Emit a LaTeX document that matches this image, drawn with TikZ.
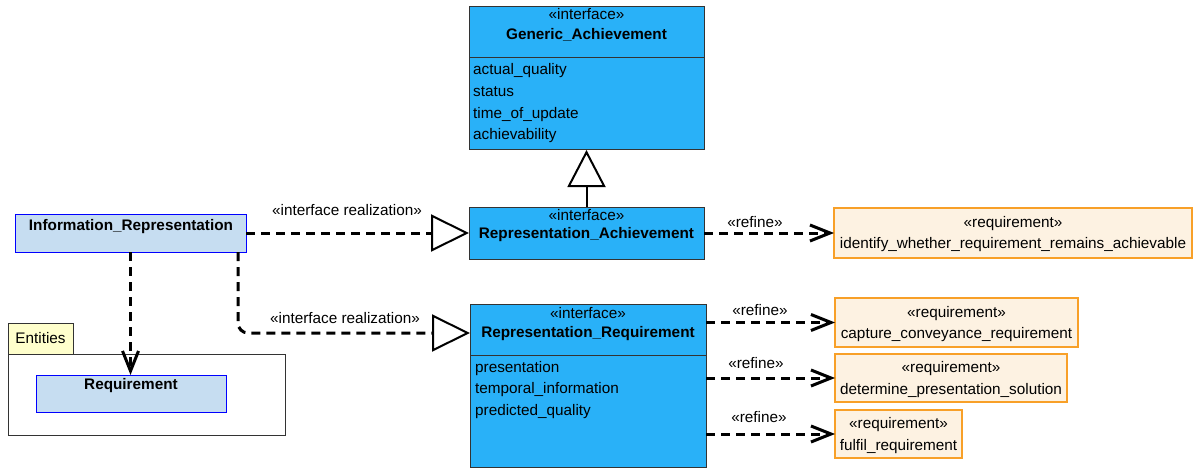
\documentclass[tikz,border=0pt]{standalone}
\usepackage{fontspec}
\setmainfont{Liberation Sans}
\usetikzlibrary{arrows.meta}
\definecolor{ifaceblue}{RGB}{41,177,248}
\definecolor{classblue}{RGB}{198,221,241}
\definecolor{reqfill}{RGB}{253,242,226}
\definecolor{reqline}{RGB}{248,160,40}
\definecolor{pkgyellow}{RGB}{255,255,204}
\newcommand\umlfont{\fontsize{15.3pt}{18pt}\selectfont}

\begin{document}
\begin{tikzpicture}[x=1pt,y=-1pt,
    every node/.style={font=\umlfont, inner sep=0pt},
    box/.style={draw=black!80, line width=1pt, anchor=north west, outer sep=0pt},
    iface/.style={box, fill=ifaceblue},
    cls/.style={box, draw=blue, fill=classblue},
    reqbox/.style={box, draw=reqline, line width=1.3pt, fill=reqfill},
    stereo/.style={anchor=base},
    title/.style={anchor=base, font=\umlfont\bfseries},
    attr/.style={anchor=base west},
    dashline/.style={line width=3pt, dash pattern=on 9pt off 6pt},
    realize/.style={dashline, -{Triangle[length=38pt, width=37pt, line width'=2pt, fill=white]}},
    refine/.style={dashline, -{Straight Barb[length=20pt, width=16pt]}},
    generalize/.style={line width=2pt, -{Triangle[length=37pt, width=38pt, line width'=2pt, fill=white]}}]
  \useasboundingbox (0,0) rectangle (1197,468);

  % interfaces
  \node[iface, minimum width=235pt, minimum height=143pt] (genach) at (469,7) {};
  \node[iface, minimum width=235pt, minimum height=52pt] (repach) at (469,207) {};
  \node[iface, minimum width=236pt, minimum height=163pt] (repreq) at (470,304) {};
  \draw[line width=1pt, black!80] (genach.west |- 0,58) -- (genach.east |- 0,58);
  \draw[line width=1pt, black!80] (repreq.west |- 0,355) -- (repreq.east |- 0,355);

  \node[stereo] (genachst) at (586.5,20) {«interface»};
  \node[title] (genachnm) at (586.5,40) {Generic\_Achievement};
  \node[attr] (genach1) at (473,75) {actual\_quality};
  \node[attr] (genach2) at (473,96.7) {status};
  \node[attr] (genach3) at (473,118.3) {time\_of\_update};
  \node[attr] (genach4) at (473,140) {achievability};

  \node[stereo] (repachst) at (586.5,220) {«interface»};
  \node[title] (repachnm) at (586.5,238) {Representation\_Achievement};

  \node[stereo] (repreqst) at (588,318) {«interface»};
  \node[title] (repreqnm) at (588,337) {Representation\_Requirement};
  \node[attr] (repreq1) at (475,372) {presentation};
  \node[attr] (repreq2) at (475,393.5) {temporal\_information};
  \node[attr] (repreq3) at (475,415) {predicted\_quality};

  % classes and package
  \node[cls, minimum width=231pt, minimum height=38pt] (inforep) at (15,214) {};
  \node[title] (inforepnm) at (131,230) {Information\_Representation};
  \node[box, fill=pkgyellow, minimum width=65pt, minimum height=31pt] (pkgtab) at (8,323) {};
  \node[box, fill=white, minimum width=277pt, minimum height=81pt] (pkgbody) at (8,354) {};
  \node[stereo] (pkgnm) at (40.5,343) {Entities};
  \node[cls, minimum width=190pt, minimum height=37pt] (reqcls) at (36,375) {};
  \node[title] (reqclsnm) at (131,389) {Requirement};

  % requirements
  \node[reqbox, minimum width=358pt, minimum height=50pt] (req1) at (834,208) {};
  \node[reqbox, minimum width=243pt, minimum height=49pt] (req2) at (835,298) {};
  \node[reqbox, minimum width=232pt, minimum height=48pt] (req3) at (835,354) {};
  \node[reqbox, minimum width=127pt, minimum height=48pt] (req4) at (835,410) {};
  \node[stereo] (req1st) at (1013,227) {«requirement»};
  \node[stereo] (req1nm) at (1013,248) {identify\_whether\_requirement\_remains\_achievable};
  \node[stereo] (req2st) at (956.5,317) {«requirement»};
  \node[stereo] (req2nm) at (956.5,338) {capture\_conveyance\_requirement};
  \node[stereo] (req3st) at (951,372) {«requirement»};
  \node[stereo] (req3nm) at (951,394) {determine\_presentation\_solution};
  \node[stereo] (req4st) at (898.5,428) {«requirement»};
  \node[stereo] (req4nm) at (898.5,450) {fulfil\_requirement};

  % relations
  \draw[generalize] (repach.north) -- (genach.south);
  \draw[realize] (inforep.east) -- (repach.west);
  \draw[realize, rounded corners=10pt] ([xshift=-8pt]inforep.south east) |- ([yshift=-29pt]repreq.north west);
  \draw[refine] (inforep.south) -- (reqcls.north -| inforep.south);
  \draw[refine] (repach.east) -- (req1.west);
  \draw[refine] (repreq.east |- req2.west) -- (req2.west);
  \draw[refine] (repreq.east |- req3.west) -- (req3.west);
  \draw[refine] (repreq.east |- req4.west) -- (req4.west);

  \node[stereo] (real1) at (347,215) {«interface realization»};
  \node[stereo] (real2) at (345,323) {«interface realization»};
  \node[stereo] (ref1) at (755,227) {«refine»};
  \node[stereo] (ref2) at (760,315) {«refine»};
  \node[stereo] (ref3) at (756,368) {«refine»};
  \node[stereo] (ref4) at (759,422) {«refine»};
\end{tikzpicture}
\end{document}
